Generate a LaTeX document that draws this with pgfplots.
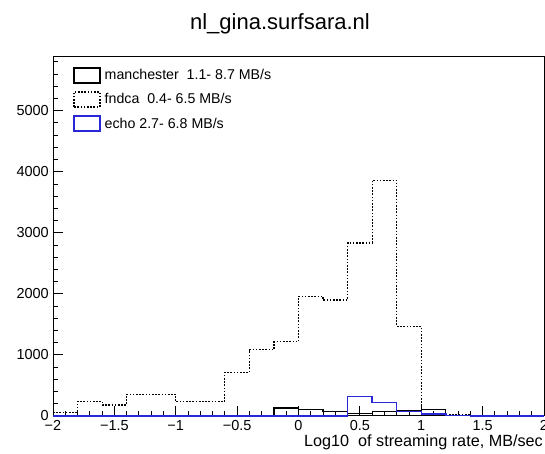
\documentclass[border=0pt]{standalone}
\usepackage{fontspec}
\setmainfont{Liberation Sans}
\usepackage{pgfplots}
\pgfplotsset{compat=1.18}
\definecolor{rootblue}{RGB}{40,40,215}

\begin{document}
\begin{tikzpicture}
\begin{axis}[
  name=ax,
  scale only axis, width=491pt, height=359pt,
  xmin=-2, xmax=2, ymin=0, ymax=5880,
  clip=false,
  axis line style={black, line width=1pt},
  tick align=inside, xtick pos=bottom, ytick pos=left,
  xtick={-2,-1.5,-1,-0.5,0,0.5,1,1.5,2},
  xticklabels={−2,−1.5,−1,−0.5,0,0.5,1,1.5,2},
  minor xtick={-1.9,-1.8,-1.7,-1.6,-1.4,-1.3,-1.2,-1.1,-0.9,-0.8,-0.7,-0.6,-0.4,-0.3,-0.2,-0.1,0.1,0.2,0.3,0.4,0.6,0.7,0.8,0.9,1.1,1.2,1.3,1.4,1.6,1.7,1.8,1.9},
  ytick={0,1000,2000,3000,4000,5000},
  minor ytick={200,400,600,800,1200,1400,1600,1800,2200,2400,2600,2800,3200,3400,3600,3800,4200,4400,4600,4800,5200,5400,5600,5800},
  major tick length=10pt, minor tick length=5pt,
  every tick/.style={black, line width=0.9pt},
  /pgf/number format/assume math mode=true,
  /pgf/number format/1000 sep={},
  ticklabel style={font=\fontsize{14.5}{16}\selectfont},
  xticklabel style={anchor=base, inner sep=0pt, yshift=-14.5pt},
  yticklabel style={anchor=east, inner sep=0pt, xshift=-4pt},
  legend cell align=left,
  legend style={at={(0.0407,0.972)}, anchor=north west, draw=none, fill=none,
    inner sep=0pt, outer sep=0pt, row sep=7.5pt, column sep=4pt,
    font=\fontsize{14.2}{16}\selectfont, nodes={inner sep=0pt}},
  legend image code/.code={\draw[#1, line width=1.7pt] (0pt,-7.5pt) rectangle (26pt,7.5pt);},
]
\addplot[const plot, black, line width=1.2pt] coordinates {
  (-2,0) (-0.2,130) (0,110) (0.2,80) (0.4,35) (0.6,80) (0.8,95) (1.0,110) (1.2,5) (1.4,0) (2,0)};
\addlegendentry{manchester\ \ 1.1- 8.7 MB/s}
\addplot[const plot, black, line width=1.2pt, dash pattern=on 1.6pt off 1.6pt] coordinates {
  (-2,55) (-1.8,240) (-1.6,180) (-1.4,358) (-1.2,358) (-1.0,235) (-0.8,235) (-0.6,715) (-0.4,1085) (-0.2,1215) (0,1960) (0.2,1900) (0.4,2835) (0.6,3860) (0.8,1470) (1.0,30) (1.2,15) (1.4,0) (2,0)};
\addlegendentry{fndca\ \ 0.4- 6.5 MB/s}
\addplot[const plot, rootblue, line width=1.4pt] coordinates {
  (-2,0) (0.4,320) (0.6,220) (0.8,75) (1.0,35) (1.2,12) (1.4,0) (2,0)};
\addlegendentry{echo\ 2.7- 6.8 MB/s}
\end{axis}
\node[font=\fontsize{22}{26}\selectfont, anchor=base] at ([shift={(227pt,386pt)}]ax.south west) {nl\_gina.surfsara.nl};
\node[font=\fontsize{16.2}{19}\selectfont, anchor=base east, inner sep=0pt] at ([shift={(490pt,-30.6pt)}]ax.south west) {Log10\ \ of streaming rate, MB/sec};
\pgfresetboundingbox
\path[use as bounding box] ([shift={(-53pt,-38pt)}]ax.south west) rectangle ([shift={(492pt,416pt)}]ax.south west);
\end{tikzpicture}
\end{document}
